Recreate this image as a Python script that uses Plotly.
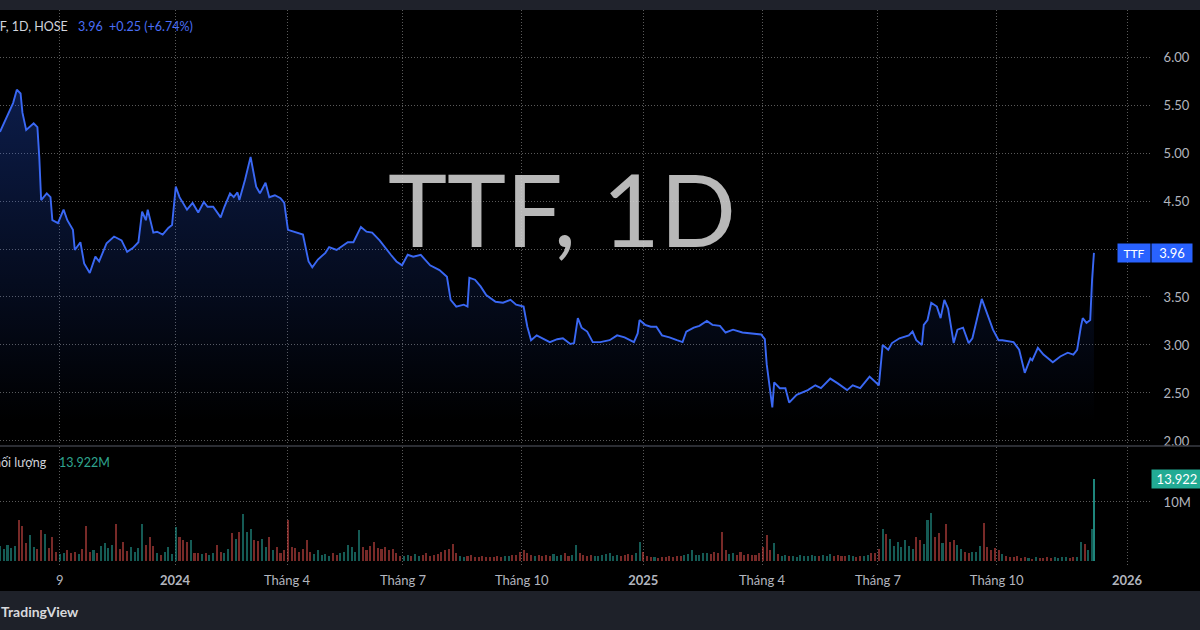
import numpy as np
import plotly.graph_objects as go

# ---------------- data ----------------
price_session = [0, 2, 7, 9, 11, 12, 14, 18, 20, 21, 22, 25, 27, 28, 31, 34, 36, 39, 40, 43,
                 45, 48, 51, 53, 57, 61, 65, 68, 71, 74, 76, 78, 79, 82, 84, 87, 90, 92, 94, 96,
                 100, 103, 106, 109, 111, 114, 118, 120, 123, 125, 127, 128, 131, 134, 135, 137, 139, 142, 144, 147,
                 150, 152, 154, 157, 162, 165, 167, 170, 174, 176, 180, 186, 189, 193, 196, 199, 203, 209, 212, 215,
                 218, 221, 225, 230, 235, 239, 241, 244, 248, 250, 251, 254, 257, 260, 265, 269, 273, 276, 280, 282,
                 284, 287, 290, 294, 298, 301, 305, 307, 309, 311, 314, 317, 321, 326, 330, 334, 339, 341, 342, 345,
                 348, 351, 354, 358, 362, 365, 367, 371, 374, 378, 381, 385, 388, 392, 397, 403, 407, 409, 410, 413,
                 414, 417, 420, 422, 426, 432, 436, 439, 444, 448, 453, 456, 460, 465, 470, 472, 475, 477, 481, 486,
                 488, 490, 493, 494, 496, 498, 501, 503, 505, 507, 510, 512, 515, 518, 520, 525, 528, 531, 534, 536,
                 542, 545, 548, 551, 552, 555, 558, 563, 567, 571, 574, 576, 578, 579, 581, 583, 584, 585]
price_close = [5.22, 5.31, 5.52, 5.66, 5.62, 5.42, 5.24, 5.31, 5.27, 4.96, 4.51, 4.58, 4.54, 4.30, 4.27, 4.41, 4.30, 4.20, 3.99, 4.07,
               3.85, 3.75, 3.92, 3.87, 4.06, 4.13, 4.09, 3.97, 4.01, 4.07, 4.39, 4.30, 4.41, 4.17, 4.18, 4.15, 4.22, 4.25, 4.65, 4.54,
               4.41, 4.48, 4.38, 4.49, 4.44, 4.44, 4.33, 4.44, 4.58, 4.54, 4.59, 4.51, 4.72, 4.96, 4.85, 4.65, 4.58, 4.69, 4.54, 4.56,
               4.53, 4.48, 4.20, 4.18, 4.15, 3.87, 3.81, 3.89, 3.96, 4.02, 3.99, 4.07, 4.07, 4.23, 4.18, 4.17, 4.09, 3.94, 3.87, 3.83,
               3.94, 3.92, 3.94, 3.83, 3.78, 3.71, 3.47, 3.40, 3.42, 3.40, 3.70, 3.68, 3.61, 3.52, 3.45, 3.44, 3.47, 3.42, 3.40, 3.19,
               3.05, 3.10, 3.07, 3.03, 3.06, 3.07, 3.01, 3.02, 3.28, 3.18, 3.14, 3.03, 3.03, 3.05, 3.10, 3.08, 3.03, 3.12, 3.26, 3.21,
               3.19, 3.19, 3.10, 3.08, 3.05, 3.03, 3.14, 3.18, 3.20, 3.25, 3.21, 3.20, 3.13, 3.16, 3.13, 3.12, 3.11, 3.06, 2.80, 2.35,
               2.61, 2.55, 2.55, 2.40, 2.48, 2.53, 2.58, 2.55, 2.65, 2.60, 2.53, 2.58, 2.55, 2.67, 2.58, 3.00, 2.95, 3.02, 3.07, 3.10,
               3.14, 3.05, 3.00, 3.21, 3.26, 3.44, 3.40, 3.28, 3.47, 3.38, 3.02, 3.16, 3.18, 3.02, 3.07, 3.48, 3.31, 3.16, 3.05, 3.05,
               3.03, 2.95, 2.71, 2.86, 2.84, 2.97, 2.90, 2.82, 2.88, 2.92, 2.90, 2.95, 3.19, 3.28, 3.23, 3.26, 3.68, 3.96]

# volume in millions of shares, one bar every two sessions, last bar = last session
vol_session = list(range(0, 585, 2)) + [585]
vol_m = [
    2.5, 2.0, 2.7, 2.2, 2.6, 7.0, 6.0, 3.0, 4.4, 2.4, 2.0, 5.2, 4.5, 2.2, 4.1, 1.5, 1.2, 1.4, 1.8, 1.3,
    1.6, 1.2, 2.0, 5.9, 1.6, 1.9, 1.4, 2.6, 3.0, 2.2, 2.7, 6.2, 2.0, 3.2, 1.7, 2.4, 1.6, 2.2, 6.2, 2.7,
    4.1, 2.5, 1.4, 1.0, 1.6, 2.4, 1.2, 5.8, 4.0, 3.6, 3.2, 3.5, 1.4, 1.3, 1.2, 1.4, 1.1, 1.3, 2.7, 1.5,
    1.4, 2.0, 4.7, 3.8, 4.9, 8.0, 4.9, 5.5, 3.6, 3.4, 3.8, 2.4, 4.1, 1.8, 2.4, 1.4, 1.9, 7.0, 2.4, 2.2,
    1.6, 2.0, 3.5, 1.6, 1.2, 1.8, 1.0, 1.2, 0.9, 1.3, 1.1, 1.4, 1.5, 2.7, 2.4, 1.6, 5.3, 2.4, 1.9, 2.6,
    3.2, 2.2, 2.0, 2.4, 1.9, 2.1, 1.3, 0.9, 0.8, 1.0, 0.8, 1.2, 0.9, 1.1, 1.3, 0.9, 1.0, 1.2, 1.6, 1.8,
    2.0, 2.8, 1.4, 0.9, 0.7, 0.8, 1.0, 0.7, 0.6, 0.8, 0.6, 0.7, 0.6, 0.8, 0.7, 0.9, 0.8, 1.0, 1.1, 1.5,
    1.8, 1.3, 1.0, 0.9, 1.1, 0.8, 1.0, 0.9, 1.2, 0.9, 1.1, 1.3, 0.9, 1.0, 2.7, 1.4, 1.0, 0.8, 1.1, 0.9,
    0.8, 1.0, 1.2, 1.3, 0.9, 1.0, 0.8, 1.1, 1.2, 1.0, 1.4, 3.2, 1.5, 0.9, 0.7, 0.6, 0.5, 0.7, 0.6, 0.8,
    0.7, 0.9, 0.8, 1.0, 1.2, 1.9, 1.1, 1.0, 1.3, 1.4, 1.2, 1.5, 1.3, 4.9, 1.9, 1.2, 1.4, 1.1, 1.6, 1.0,
    1.2, 1.0, 1.1, 1.3, 2.4, 4.4, 1.8, 3.0, 1.2, 0.9, 1.0, 0.8, 0.9, 0.7, 1.0, 0.8, 0.9, 1.1, 0.8, 0.9,
    1.0, 0.8, 1.2, 0.9, 1.0, 0.8, 0.9, 1.1, 0.8, 0.7, 0.9, 0.8, 1.0, 1.3, 1.4, 2.0, 5.5, 4.5, 3.8, 2.6,
    3.2, 2.4, 3.5, 2.6, 2.1, 4.1, 3.5, 2.8, 6.9, 8.2, 4.0, 4.7, 3.0, 6.3, 3.2, 3.5, 2.7, 2.0, 1.5, 1.4,
    1.6, 1.5, 2.6, 6.5, 2.4, 1.9, 2.2, 1.8, 1.2, 0.8, 0.7, 0.6, 0.8, 0.5, 0.6, 0.5, 0.4, 0.6, 0.5, 0.5,
    0.6, 0.5, 0.6, 0.5, 0.7, 0.6, 0.5, 0.7, 0.6, 3.2, 2.8, 1.8, 5.5, 13.922,
]

tick_session = [32, 93.6, 153.5, 215.5, 279, 344, 407.5, 469.5, 533, 602.7]
tick_text = ["9", "<b>2024</b>", "Tháng 4", "Tháng 7", "Tháng 10", "<b>2025</b>",
             "Tháng 4", "Tháng 7", "Tháng 10", "<b>2026</b>"]
price_ticks = [2.0, 2.5, 3.0, 3.5, 4.0, 4.5, 5.0, 5.5, 6.0]
vol_ticks = [10]
vol_tick_text = ["10M"]

symbol = "TTF"
last_change = "+0.25 (+6.74%)"

assert len(price_session) == len(price_close)
assert len(vol_session) == len(vol_m)

# ---------------- layout geometry ----------------
W, H = 1200, 630
ML, MR, MT, MB = 0, 50, 10, 65
PW, PH = W - ML - MR, H - MT - MB


def px_x(x):
    return (x - ML) / PW


def px_y(y):
    return (H - MB - y) / PH


FONT = "Lato, 'Open Sans', sans-serif"
AXIS_COL = "#b2b5be"
GRID = dict(showgrid=True, gridcolor="rgba(200,200,200,0.45)", gridwidth=1, griddash="1px,2px")

last_price = price_close[-1]
last_vol = vol_m[-1]

# price tick labels: the one hidden behind the last-price label is left blank
price_tick_text = ["" if abs(v - last_price) < 0.12 else f"{v:.2f}" for v in price_ticks]

# volume colours from direction of price
p_interp = np.interp(vol_session, price_session, price_close)
p_prev = np.interp(np.array(vol_session) - 1.0, price_session, price_close)
vol_colors = ["rgba(38,166,154,0.55)" if a >= b else "rgba(239,83,80,0.5)"
              for a, b in zip(p_interp, p_prev)]
vol_colors[-1] = "rgba(38,166,154,0.8)"

fig = go.Figure()
fig.add_trace(go.Scatter(
    x=price_session, y=price_close, mode="lines",
    line=dict(color="#3a68f4", width=1.9),
    fill="tozeroy",
    fillgradient=dict(type="vertical", start=2.2, stop=5.8,
                      colorscale=[[0, "rgba(41,98,255,0.0)"], [1, "rgba(41,98,255,0.30)"]]),
    xaxis="x", yaxis="y", hoverinfo="skip",
))
fig.add_trace(go.Bar(
    x=vol_session, y=vol_m, width=1.1,
    marker=dict(color=vol_colors, line=dict(width=0)),
    xaxis="x2", yaxis="y2", hoverinfo="skip",
))

split_top = px_y(445)
split_bot = px_y(447)

fig.update_layout(
    width=W, height=H,
    margin=dict(l=ML, r=MR, t=MT, b=MB, pad=0),
    paper_bgcolor="#000000", plot_bgcolor="#000000",
    showlegend=False, bargap=0,
    font=dict(family=FONT, color=AXIS_COL, size=13),
    xaxis=dict(domain=[0, 1], range=[0, PW / 1.87], anchor="y", tickvals=tick_session,
               ticktext=tick_text, showticklabels=False, zeroline=False, showline=False, **GRID),
    yaxis=dict(domain=[split_top, 1], range=[1.958, 6.49], side="right", tickvals=price_ticks,
               ticktext=price_tick_text, zeroline=False, showline=False,
               ticks="outside", ticklen=10, tickcolor="rgba(0,0,0,0)",
               tickfont=dict(size=13, color=AXIS_COL), **GRID),
    xaxis2=dict(domain=[0, 1], range=[0, PW / 1.87], anchor="y2", matches="x", tickvals=tick_session,
                ticktext=tick_text, zeroline=False, showline=False, ticks="outside", ticklen=3,
                tickcolor="rgba(0,0,0,0)", tickfont=dict(size=13, color=AXIS_COL), **GRID),
    yaxis2=dict(domain=[0, split_bot], range=[-0.68, 19.32], side="right", tickvals=vol_ticks,
                ticktext=vol_tick_text, zeroline=False, showline=False,
                ticks="outside", ticklen=10, tickcolor="rgba(0,0,0,0)",
                tickfont=dict(size=13, color=AXIS_COL), **GRID),
)

shapes = [
    # top toolbar strip
    dict(type="rect", xref="paper", yref="paper", x0=px_x(-5), x1=px_x(W + 5), y0=px_y(10), y1=px_y(-5),
         fillcolor="#1f222b", line=dict(width=0), layer="above"),
    # bottom branding strip
    dict(type="rect", xref="paper", yref="paper", x0=px_x(-5), x1=px_x(W + 5), y0=px_y(H + 5), y1=px_y(591),
         fillcolor="#1e2129", line=dict(width=0), layer="above"),
    # pane separator
    dict(type="line", xref="paper", yref="paper", x0=px_x(0), x1=px_x(W), y0=px_y(446), y1=px_y(446),
         line=dict(color="#3a3d45", width=1.5), layer="above"),
]
fig.update_layout(shapes=shapes)

ann = [
    # watermark
    dict(text=f"{symbol}, 1D", xref="paper", yref="paper", x=px_x(562), y=px_y(208),
         showarrow=False, font=dict(size=100, color="rgba(210,210,210,0.88)", family=FONT)),
    # legend row
    dict(text=f"{symbol}, 1D, HOSE", xref="paper", yref="paper", x=px_x(70), y=px_y(26),
         xanchor="right", yanchor="middle", showarrow=False, font=dict(size=12.5, color="#d1d4dc")),
    dict(text=f"{last_price:.2f}  {last_change}", xref="paper", yref="paper", x=px_x(76), y=px_y(26),
         xanchor="left", yanchor="middle", showarrow=False, font=dict(size=12.5, color="#4a6ef5")),
    dict(text="Tổng khối lượng", xref="paper", yref="paper", x=px_x(49), y=px_y(462),
         xanchor="right", yanchor="middle", showarrow=False, font=dict(size=12.5, color="#d1d4dc")),
    dict(text=f"{last_vol:.3f}M", xref="paper", yref="paper", x=px_x(57), y=px_y(462),
         xanchor="left", yanchor="middle", showarrow=False, font=dict(size=12.5, color="#2fa58f")),
    # branding
    dict(text="<b>TradingView</b>", xref="paper", yref="paper", x=px_x(-1), y=px_y(611),
         xanchor="left", yanchor="middle", showarrow=False, font=dict(size=14, color="#d8d9dc")),
    # last price label
    dict(text=symbol, xref="paper", yref="y", x=px_x(1134), y=last_price, xanchor="center",
         yanchor="middle", showarrow=False, bgcolor="#2962ff", width=30, height=16,
         font=dict(size=12, color="#ffffff")),
    dict(text=f"{last_price:.2f}", xref="paper", yref="y", x=px_x(1172), y=last_price, xanchor="center",
         yanchor="middle", showarrow=False, bgcolor="#2962ff", width=38, height=16,
         font=dict(size=13, color="#ffffff")),
    # last volume label
    dict(text=f"{last_vol:.3f}", xref="paper", yref="y2", x=px_x(1177), y=last_vol, xanchor="center",
         yanchor="middle", showarrow=False, bgcolor="#22ab94", width=48, height=16,
         font=dict(size=13, color="#ffffff")),
]
fig.update_layout(annotations=ann)

fig.write_html("out.html", config={"displayModeBar": False},
               post_script="document.body.style.margin='0';document.body.style.overflow='hidden';")
